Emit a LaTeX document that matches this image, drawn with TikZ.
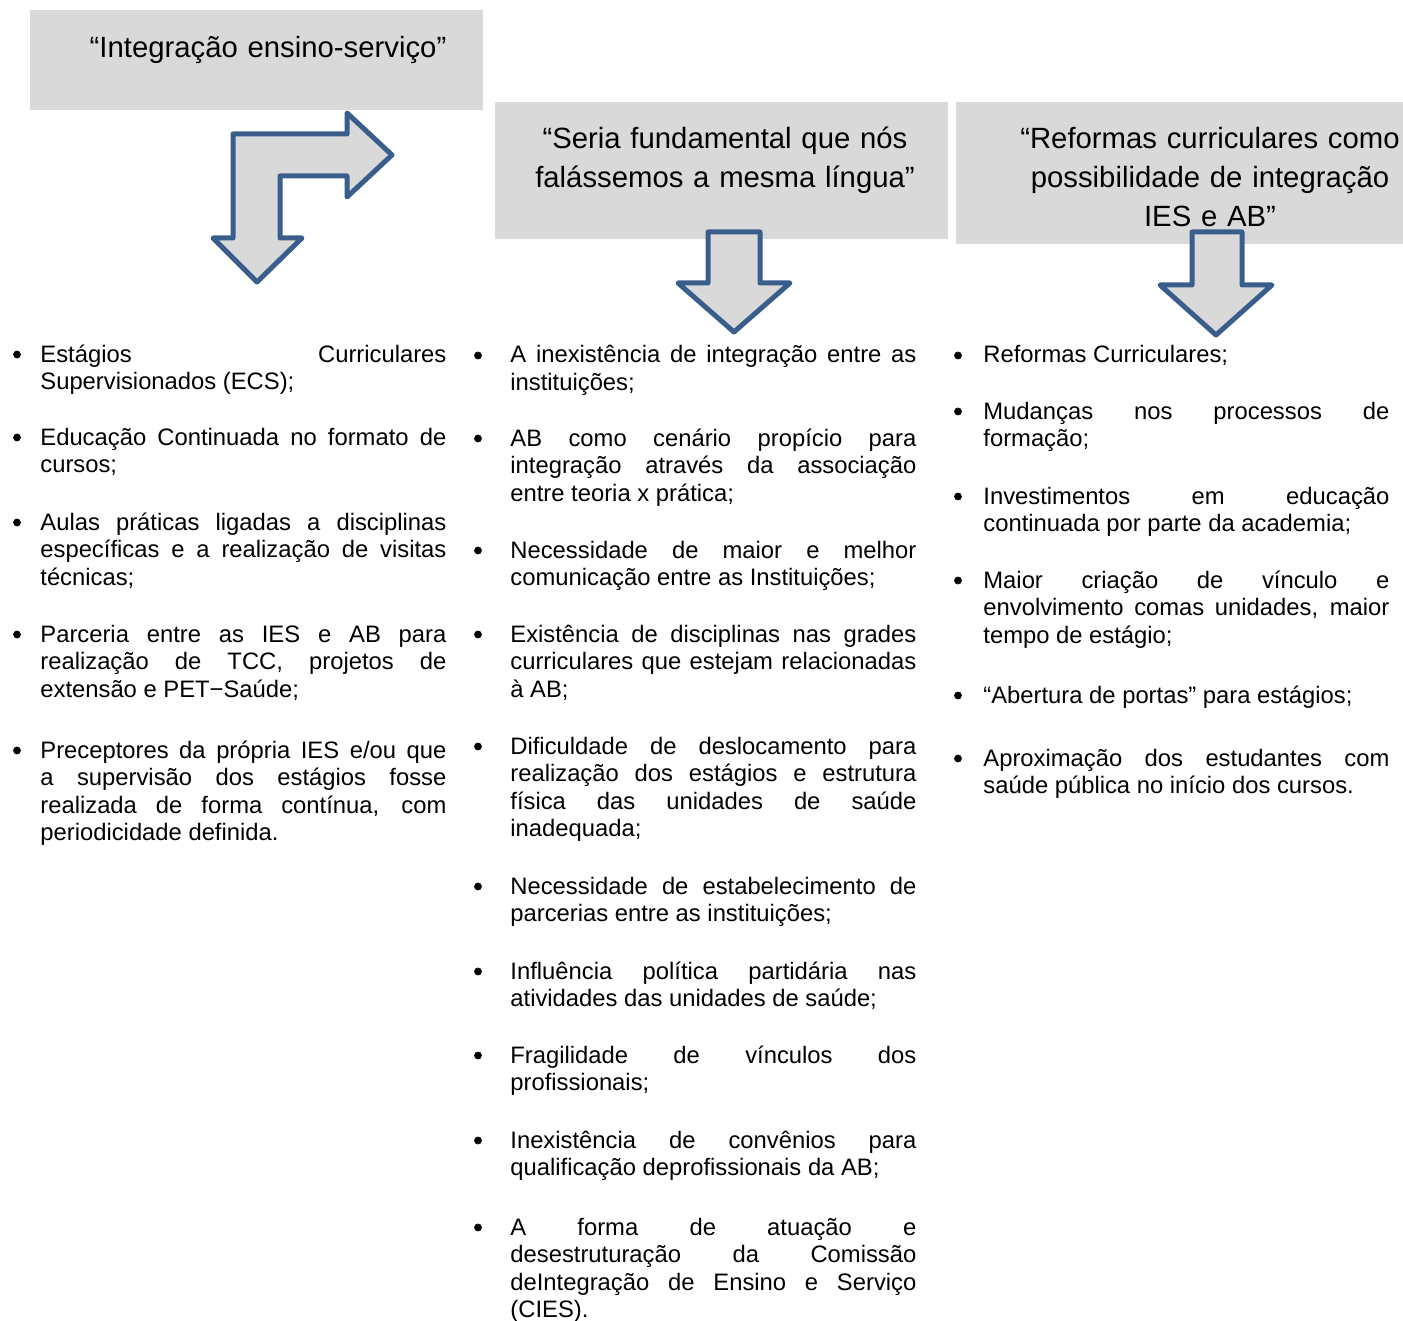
\documentclass[tikz,border=0pt]{standalone}
\usepackage{fontspec}
\setmainfont{Liberation Sans}
\definecolor{boxgray}{HTML}{D9D9D9}
\definecolor{arrowblue}{HTML}{3A5E8C}
\newcommand\bodyfont{\fontsize{11.9}{13.8}\selectfont\hyphenpenalty=10000\exhyphenpenalty=10000\tolerance=10000\emergencystretch=20pt}
\newcommand\li[5]{%
  \node[bul] (#1-b) at (#2,#4-7.5) {};
  \node[itm] (#1) at (#3,#4) {#5};}
\begin{document}
\begin{tikzpicture}[x=0.5pt,y=-0.5pt,
  hbox/.style={fill=boxgray, draw=none, inner sep=0, outer sep=0},
  htext/.style={font=\fontsize{14.65}{19.5}\selectfont, text width=230pt, align=center, inner sep=0, anchor=base},
  bul/.style={circle, fill=black, draw=none, inner sep=0, minimum size=3.9pt},
  itm/.style={font=\bodyfont, text width=203pt, align=justify, inner sep=0, anchor=base west},
  barrow/.style={draw=arrowblue, fill=boxgray, line width=2.5pt, line join=round}]
\useasboundingbox (0,0) rectangle (1403,1321);
% header boxes
\node[hbox, minimum width=226.5pt, minimum height=50pt] (box1) at (256.5,60) {};
\node[hbox, minimum width=226.5pt, minimum height=68.5pt] (box2) at (721.5,170.5) {};
\node[hbox, minimum width=223.5pt, minimum height=71pt] (box3) at (1179.5,173) {};
\node[htext] (t1) at (268,58) {“Integração ensino-serviço”};
\node[htext] (t2) at (725,149) {“Seria fundamental que nós\\falássemos a mesma língua”};
\node[htext] (t3) at (1210,148.5) {“Reformas curriculares como\\possibilidade de integração\\IES e AB”};
% block arrows
\draw[barrow] (233,134) -- (347,134) -- (347,113) -- (392,155) -- (347,197) -- (347,176)
  -- (280,176) -- (280,238) -- (302,238) -- (257,282) -- (213,238) -- (233,238) -- cycle;
\draw[barrow] (708,232) -- (760,232) -- (760,283) -- (790,283) -- (734,332) -- (678,283) -- (708,283) -- cycle;
\draw[barrow] (1192,232) -- (1242,232) -- (1242,285) -- (1272,285) -- (1216,335) -- (1160,285) -- (1192,285) -- cycle;
% column 1
\li{a1}{17}{40}{362}{Estágios Curriculares\linebreak Supervisionados (ECS);}
\li{a2}{17}{40}{445}{Educação Continuada no formato de\linebreak cursos;}
\li{a3}{17}{40}{530}{Aulas práticas ligadas a disciplinas\linebreak específicas e a realização de visitas\linebreak técnicas;}
\li{a4}{17}{40}{642}{Parceria entre as IES e AB para\linebreak realização de TCC, projetos de\linebreak extensão e PET−Saúde;}
\li{a5}{17}{40}{758}{Preceptores da própria IES e/ou que\linebreak a supervisão dos estágios fosse\linebreak realizada de forma contínua, com\linebreak periodicidade definida.}
% column 2
\li{b1}{478}{510}{363}{A inexistência de integração entre as\linebreak instituições;}
\li{b2}{478}{510}{446}{AB como cenário propício para\linebreak integração através da associação\linebreak entre teoria x prática;}
\li{b3}{478}{510}{558}{Necessidade de maior e melhor\linebreak comunicação entre as Instituições;}
\li{b4}{478}{510}{642}{Existência de disciplinas nas grades\linebreak curriculares que estejam relacionadas\linebreak à AB;}
\li{b5}{478}{510}{754}{Dificuldade de deslocamento para\linebreak realização dos estágios e estrutura\linebreak física das unidades de saúde\linebreak inadequada;}
\li{b6}{478}{510}{894}{Necessidade de estabelecimento de\linebreak parcerias entre as instituições;}
\li{b7}{478}{510}{979}{Influência política partidária nas\linebreak atividades das unidades de saúde;}
\li{b8}{478}{510}{1063}{Fragilidade de vínculos dos\linebreak profissionais;}
\li{b9}{478}{510}{1148}{Inexistência de convênios para\linebreak qualificação deprofissionais da AB;}
\li{b10}{478}{510}{1235}{A forma de atuação e\linebreak desestruturação da Comissão\linebreak deIntegração de Ensino e Serviço\linebreak (CIES).}
% column 3
\li{c1}{958}{983}{363}{Reformas Curriculares;}
\li{c2}{958}{983}{419}{Mudanças nos processos de\linebreak formação;}
\li{c3}{958}{983}{504}{Investimentos em educação\linebreak continuada por parte da academia;}
\li{c4}{958}{983}{588}{Maior criação de vínculo e\linebreak envolvimento comas unidades, maior\linebreak tempo de estágio;}
\li{c5}{958}{983}{703}{“Abertura de portas” para estágios;}
\li{c6}{958}{983}{766}{Aproximação dos estudantes com\linebreak saúde pública no início dos cursos.}
\end{tikzpicture}
\end{document}
